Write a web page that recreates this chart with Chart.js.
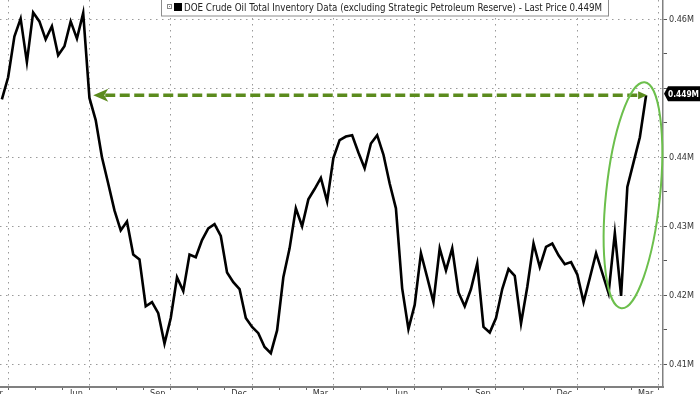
<!DOCTYPE html>
<html>
<head>
<meta charset="utf-8">
<script src="https://cdn.jsdelivr.net/npm/chart.js@4.4.1/dist/chart.umd.min.js"></script>
<style>
  html, body { margin: 0; padding: 0; background: #fff; }
  #wrap { width: 700px; height: 394px; }
</style>
</head>
<body>
<div id="wrap"><canvas id="chart" width="700" height="394"></canvas></div>
<script>
// weekly readings, millions of barrels shown in "M" of billions (0.449M = 449M bbl)
const seriesName = 'DOE Crude Oil Total Inventory Data (excluding Strategic Petroleum Reserve) - Last Price 0.449M';
const inventory = [
    0.4484, 0.4516, 0.4575, 0.4601, 0.4538, 0.4610, 0.4597, 0.4571, 0.4590, 0.4548,
    0.4561, 0.4597, 0.4572, 0.4609, 0.4486, 0.4454, 0.4400, 0.4362, 0.4323, 0.4294,
    0.4307, 0.4259, 0.4252, 0.4184, 0.4190, 0.4174, 0.4130, 0.4167, 0.4226, 0.4206,
    0.4259, 0.4255, 0.4280, 0.4297, 0.4303, 0.4286, 0.4233, 0.4219, 0.4209, 0.4167,
    0.4154, 0.4145, 0.4125, 0.4116, 0.4149, 0.4226, 0.4268, 0.4326, 0.4300, 0.4339,
    0.4354, 0.4370, 0.4336, 0.4399, 0.4425, 0.4430, 0.4432, 0.4407, 0.4384, 0.4420,
    0.4432, 0.4404, 0.4362, 0.4326, 0.4210, 0.4151, 0.4186, 0.4261, 0.4226, 0.4190,
    0.4268, 0.4236, 0.4268, 0.4204, 0.4184, 0.4209, 0.4246, 0.4154, 0.4146, 0.4167,
    0.4209, 0.4238, 0.4228, 0.4159, 0.4212, 0.4275, 0.4241, 0.4270, 0.4275, 0.4258,
    0.4245, 0.4248, 0.4230, 0.4190, 0.4225, 0.4261, 0.4232, 0.4203, 0.4290, 0.4199,
    0.4357, 0.4393, 0.4429, 0.4490
];
const xTickLabels = ['Mar', 'Jun', 'Sep', 'Dec', 'Mar', 'Jun', 'Sep', 'Dec', 'Mar'];
const yTickValues = [0.41, 0.42, 0.43, 0.44, 0.45, 0.46];
const lastPrice = 0.449;
const lastPriceLabel = '0.449M';

const WEEKS_PER_MONTH = 52 / 12;
const FONT = '"DejaVu Sans Condensed", "DejaVu Sans", sans-serif';
const GRID = '#9a9a9a';

// draw text squeezed into a given width if it is wider
function fitText(ctx, text, x, y, maxWidth) {
    const w = ctx.measureText(text).width;
    ctx.save();
    ctx.translate(x, y);
    if (w > maxWidth) ctx.scale(maxWidth / w, 1);
    ctx.fillText(text, 0, 0);
    ctx.restore();
}

// green arrow, ellipse, last price tag and the legend box
const annotations = {
    id: 'annotations',
    afterDatasetsDraw(chart) {
        const ctx = chart.ctx;
        const x = chart.scales.x;
        const y = chart.scales.y;
        const area = chart.chartArea;
        const n = inventory.length;

        // where the line last crossed the latest value
        let cross = 0;
        for (let i = n - 2; i > 0; i--) {
            if (inventory[i - 1] >= lastPrice && inventory[i] < lastPrice) {
                cross = i - 1 + (inventory[i - 1] - lastPrice) / (inventory[i - 1] - inventory[i]);
                break;
            }
        }
        const ly = y.getPixelForValue(lastPrice);
        const x0 = x.getPixelForValue(cross) + 4;
        const x1 = x.getPixelForValue(n - 1);

        ctx.save();
        ctx.strokeStyle = '#5b8b1d';
        ctx.fillStyle = '#5b8b1d';
        ctx.lineWidth = 3.5;
        ctx.setLineDash([10, 4.5]);
        ctx.beginPath();
        ctx.moveTo(x0 + 12, ly);
        ctx.lineTo(x1 - 6, ly);
        ctx.stroke();
        ctx.setLineDash([]);
        ctx.beginPath();
        ctx.moveTo(x0, ly);
        ctx.lineTo(x0 + 15, ly - 6.5);
        ctx.lineTo(x0 + 11, ly);
        ctx.lineTo(x0 + 15, ly + 6.5);
        ctx.closePath();
        ctx.fill();
        ctx.beginPath();
        ctx.moveTo(x1 + 1, ly);
        ctx.lineTo(x1 - 8, ly - 4);
        ctx.lineTo(x1 - 8, ly + 4);
        ctx.closePath();
        ctx.fill();

        // ellipse around the last weeks
        const cx = x.getPixelForValue(100.9);
        const cy = y.getPixelForValue(0.4345);
        ctx.strokeStyle = '#6cbf4c';
        ctx.lineWidth = 2;
        ctx.beginPath();
        ctx.ellipse(cx, cy, 27, 113.6, 0.103, 0, Math.PI * 2);
        ctx.stroke();

        // last price tag on the right axis
        const tx = area.right;
        const ty = ly - 1.5;
        ctx.fillStyle = '#000';
        ctx.beginPath();
        ctx.moveTo(tx + 1, ty);
        ctx.lineTo(tx + 5, ty - 7.5);
        ctx.lineTo(chart.width, ty - 7.5);
        ctx.lineTo(chart.width, ty + 7.5);
        ctx.lineTo(tx + 5, ty + 7.5);
        ctx.closePath();
        ctx.fill();
        ctx.fillStyle = '#fff';
        ctx.font = 'bold 9px ' + FONT;
        ctx.textBaseline = 'middle';
        fitText(ctx, lastPriceLabel, tx + 5, ty + 0.5, 31);

        // legend box
        ctx.fillStyle = '#fff';
        ctx.strokeStyle = '#8c8c8c';
        ctx.lineWidth = 1;
        ctx.fillRect(161, -1, 447, 17);
        ctx.strokeRect(161.5, -1.5, 447, 17.5);
        ctx.strokeStyle = '#888';
        ctx.strokeRect(167.5, 4.5, 4, 4);
        ctx.fillStyle = '#888';
        ctx.fillRect(169, 6, 1, 1);
        ctx.fillStyle = '#000';
        ctx.fillRect(174, 3, 8, 8);
        ctx.fillStyle = '#222';
        ctx.font = '10px ' + FONT;
        ctx.textBaseline = 'alphabetic';
        fitText(ctx, seriesName, 184, 11, 418);
        ctx.restore();
    }
};

const canvas = document.getElementById('chart');
new Chart(canvas, {
    type: 'line',
    data: {
        datasets: [{
            label: seriesName,
            data: inventory.map((v, i) => ({ x: i, y: v })),
            borderColor: '#000',
            borderWidth: 2.6,
            pointRadius: 0,
            tension: 0,
            fill: false
        }]
    },
    options: {
        responsive: false,
        animation: false,
        devicePixelRatio: 1,
        layout: { padding: 0 },
        plugins: {
            legend: { display: false },
            tooltip: { enabled: false }
        },
        scales: {
            x: {
                type: 'linear',
                min: -0.3,
                max: 105.7,
                afterBuildTicks(scale) {
                    const ticks = [];
                    for (let k = 0; k <= 24; k++) ticks.push({ value: 1 + k * WEEKS_PER_MONTH });
                    scale.ticks = ticks;
                },
                afterFit(scale) {
                    scale.height = 7;
                    scale.paddingLeft = 0;
                    scale.paddingRight = 0;
                },
                ticks: {
                    autoSkip: false,
                    maxRotation: 0,
                    minRotation: 0,
                    labelOffset: -13,
                    padding: -2,
                    color: '#333',
                    font: { family: FONT, size: 9 },
                    callback: (value, index) => index % 3 === 0 ? xTickLabels[index / 3] : ''
                },
                grid: {
                    color: (c) => c.index % 3 === 0 ? GRID : 'rgba(0,0,0,0)',
                    tickColor: '#666',
                    tickLength: 3,
                    lineWidth: 1
                },
                border: { color: '#808080', width: 2, dash: [1.5, 4.5] }
            },
            y: {
                position: 'right',
                min: 0.4067,
                max: 0.4628,
                afterBuildTicks(scale) {
                    const ticks = [];
                    for (let k = 0; k <= 10; k++) ticks.push({ value: +(yTickValues[0] + k * 0.005).toFixed(3) });
                    scale.ticks = ticks;
                },
                afterFit(scale) {
                    scale.width = 37;
                    scale.paddingTop = 0;
                    scale.paddingBottom = 0;
                },
                ticks: {
                    padding: 2,
                    color: '#333',
                    font: { family: FONT, size: 9 },
                    callback: (value) => {
                        const major = yTickValues.some(t => Math.abs(t - value) < 1e-6);
                        if (!major || Math.abs(value - lastPrice) < 0.002) return '';
                        return value.toFixed(2) + 'M';
                    }
                },
                grid: {
                    color: (c) => yTickValues.some(t => Math.abs(t - c.tick.value) < 1e-6) ? GRID : 'rgba(0,0,0,0)',
                    tickColor: '#555',
                    tickLength: 4,
                    lineWidth: 1
                },
                border: { color: '#808080', width: 1.5, dash: [1.5, 4.5] }
            }
        }
    },
    plugins: [annotations]
});
</script>
</body>
</html>
